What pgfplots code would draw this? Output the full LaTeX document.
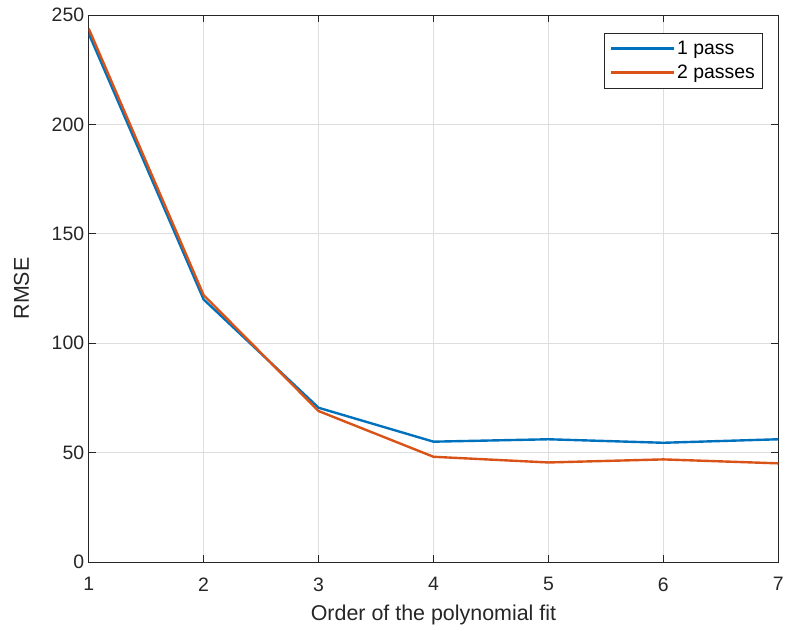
\documentclass[border=0pt]{standalone}
\usepackage{pgfplots}
\pgfplotsset{compat=1.18}
\usepackage{fontspec}
\setmainfont{Liberation Sans}

\definecolor{mblue}{rgb}{0,0.447,0.741}
\definecolor{morange}{rgb}{0.85,0.325,0.098}
\definecolor{axgray}{rgb}{0.15,0.15,0.15}

\begin{document}
\begin{tikzpicture}
\begin{axis}[
  at={(0,0)}, anchor=south west,
  width=692pt, height=549pt, scale only axis,
  xmin=1, xmax=7, ymin=0, ymax=250,
  xtick={1,...,7}, ytick={0,50,...,250},
  grid=major,
  major grid style={line width=0.8pt, draw=black!13},
  axis line style={line width=0.8pt, draw=axgray},
  tick style={line width=0.8pt, draw=axgray},
  tick align=inside, major tick length=7pt,
  xtick pos=both, ytick pos=both,
  ticklabel style={font=\fontsize{19.5}{23}\selectfont, text=axgray},
  /pgf/number format/assume math mode=true,
  xticklabel style={yshift=-12pt},
  yticklabel style={xshift=-1pt},
  xlabel={Order of the polynomial fit},
  ylabel={RMSE},
  label style={font=\fontsize{21.5}{25}\selectfont, text=axgray},
  xlabel style={yshift=-7pt},
  ylabel style={yshift=16pt},
  legend style={at={(1,1)}, anchor=north east, xshift=-16pt, yshift=-18pt,
    font=\fontsize{19.5}{23}\selectfont, draw=axgray, line width=0.8pt,
    inner xsep=5pt, inner ysep=6pt, row sep=5pt,
    cells={anchor=west}},
  legend image code/.code={\draw[#1, line width=2.6pt] (0pt,0pt) -- (63pt,0pt);},
  legend cell align=left,
]
\addplot[color=mblue, line width=2.4pt] coordinates {
  (1,241.5) (2,120) (3,70.5) (4,55) (5,56.1) (6,54.5) (7,56.1)
};
\addlegendentry{1 pass}
\addplot[color=morange, line width=2.4pt] coordinates {
  (1,243.8) (2,122) (3,69) (4,48.1) (5,45.5) (6,46.9) (7,45.1)
};
\addlegendentry{2 passes}
\end{axis}
\path[use as bounding box] (-89pt,-69pt) rectangle (698pt,564pt);
\end{tikzpicture}
\end{document}
